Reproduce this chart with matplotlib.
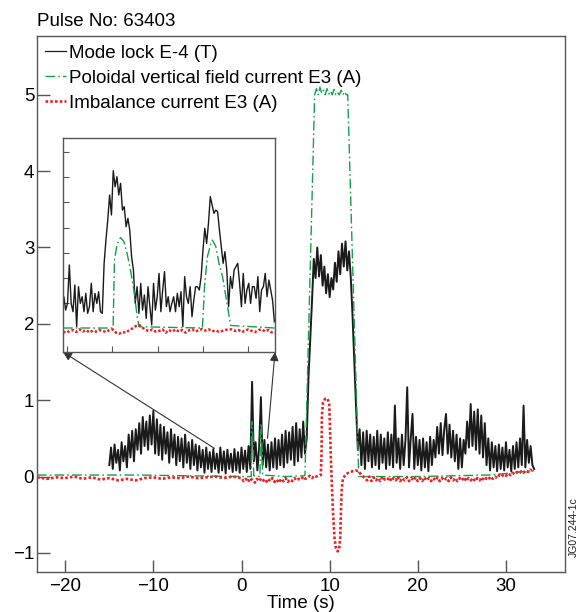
import numpy as np
import matplotlib
matplotlib.use("Agg")
import matplotlib.pyplot as plt

plt.rcParams['font.family'] = ['Liberation Sans', 'DejaVu Sans']

# ---------------- data ----------------
pulse_label = "Pulse No: 63403"
series_names = ["Mode lock E-4 (T)",
                "Poloidal vertical field current E3 (A)",
                "Imbalance current E3 (A)"]
x_ticks = [-20, -10, 0, 10, 20, 30]
y_ticks = [-1, 0, 1, 2, 3, 4, 5]

# Mode lock (T), sampled every 0.2 s from -15.0 s
mode_t0, mode_dt = -15.0, 0.2
mode_lock = [
    0.15, 0.38, 0.10, 0.42, 0.18, 0.35, 0.08, 0.45, 0.20, 0.40,
    0.12, 0.55, 0.25, 0.60, 0.20, 0.62, 0.35, 0.70, 0.30, 0.78,
    0.40, 0.72, 0.35, 0.80, 0.42, 0.86, 0.30, 0.75, 0.28, 0.68,
    0.22, 0.65, 0.30, 0.58, 0.18, 0.62, 0.25, 0.55, 0.15, 0.52,
    0.20, 0.50, 0.12, 0.55, 0.18, 0.45, 0.10, 0.48, 0.15, 0.42,
    0.08, 0.40, 0.12, 0.35, 0.05, 0.38, 0.10, 0.32, 0.06, 0.36,
    0.10, 0.30, 0.05, 0.38, 0.08, 0.33, 0.04, 0.35, 0.10, 0.30,
    0.06, 0.36, 0.08, 0.32, 0.05, 0.38, 0.10, 0.34, 0.06, 0.40,
    0.10, 1.24, 0.20, 0.45, 0.08, 0.38, 1.04, 0.15, 0.48, 0.12,
    0.42, 0.08, 0.45, 0.12, 0.50, 0.10, 0.48, 0.15, 0.55, 0.12,
    0.60, 0.18, 0.58, 0.22, 0.65, 0.15, 0.70, 0.20, 0.62, 0.25,
    0.72, 0.30, 0.50, 1.30, 1.80, 2.30, 2.85, 2.60, 3.00, 2.62,
    2.90, 2.50, 2.75, 2.40, 2.65, 2.35, 2.60, 2.45, 2.80, 2.55,
    2.95, 2.65, 3.05, 2.75, 3.08, 2.70, 2.95, 2.60, 2.10, 1.50,
    0.90, 0.35, 0.62, 0.15, 0.58, 0.10, 0.60, 0.20, 0.55, 0.12,
    0.52, 0.15, 0.60, 0.10, 0.55, 0.18, 0.50, 0.10, 0.58, 0.15,
    0.55, 0.12, 0.93, 0.18, 0.50, 0.10, 0.55, 0.15, 0.48, 1.17,
    0.12, 0.50, 0.82, 0.10, 0.52, 0.15, 0.48, 0.08, 0.50, 0.12,
    0.45, 0.07, 0.52, 0.15, 0.48, 0.25, 0.65, 0.30, 0.70, 0.28,
    0.62, 0.82, 0.30, 0.68, 0.25, 0.60, 0.20, 0.55, 0.10, 0.50,
    0.12, 0.48, 0.30, 0.72, 0.38, 0.95, 0.40, 0.85, 0.35, 0.88,
    0.30, 0.80, 0.25, 0.70, 0.15, 0.50, 0.08, 0.45, 0.12, 0.40,
    0.07, 0.42, 0.10, 0.38, 0.08, 0.45, 0.12, 0.35, 0.07, 0.40,
    0.10, 0.45, 0.12, 0.50, 0.15, 0.93, 0.12, 0.48, 0.18, 0.40,
    0.15, 0.10,
]

# Poloidal vertical field current (A)
pvf_t = [-23.2, -18, -12, -6, 0.0, 1.10, 1.12, 1.15, 1.19, 1.23, 1.26, 1.30,
         1.34, 1.37, 1.39, 2.10, 2.12, 2.15, 2.19, 2.21, 2.24, 2.28, 2.32,
         2.36, 2.39, 2.41, 5.0, 7.1, 7.2, 8.3, 8.5, 8.7, 8.9, 9.1, 9.3, 9.5,
         9.7, 9.9, 10.1, 10.3, 10.5, 10.7, 10.9, 11.1, 11.3, 11.5, 11.7, 11.9,
         12.05, 13.3, 16, 20, 24, 28, 30, 33.2]
pvf_v = [0.02, 0.02, 0.02, 0.01, 0.0, 0.0, 0.54, 0.67, 0.72, 0.69, 0.59, 0.46,
         0.30, 0.09, 0.01, 0.0, 0.36, 0.57, 0.67, 0.70, 0.65, 0.51, 0.41,
         0.25, 0.09, 0.02, 0.0, 0.01, 0.02, 5.0, 5.08, 5.0, 5.1, 5.02, 5.06,
         5.0, 5.08, 5.01, 5.05, 5.0, 5.07, 5.0, 5.03, 5.0, 5.06, 5.0, 5.04, 5.0,
         5.0, 0.0, 0.0, 0.0, 0.01, 0.02, 0.04, 0.08]

# Imbalance current (A)
imb_pre_t = [-23.2, -22, -21, -20, -19, -18, -17, -16, -15, -14, -13, -12,
             -11, -10, -9, -8, -7, -6, -5, -4, -3, -2, -1]
imb_pre_v = [-0.01, -0.03, -0.01, -0.02, 0.0, -0.03, -0.01, -0.04, -0.02,
             -0.05, -0.03, -0.05, -0.02, -0.01, -0.03, -0.01, -0.02, 0.0,
             -0.02, -0.01, 0.0, -0.02, 0.0]
imb_mid_t0, imb_dt = 0.0, 0.25      # 0.0 .. 8.75 s
imb_mid_v = [-0.02, -0.06, -0.03, -0.07, -0.02, -0.05, -0.08, -0.03, -0.06, -0.02,
             -0.05, -0.08, -0.03, -0.06, -0.02, -0.07, -0.04, -0.08, -0.03, -0.06,
             -0.02, -0.07, -0.04, -0.06, -0.02, -0.05, -0.03, -0.04, 0.0, -0.03,
             -0.01, 0.01, -0.02, 0.01, 0.0, 0.01]
imb_pulse_t = [9.0, 9.08, 9.12, 9.25, 9.5, 9.76, 9.95, 10.05, 10.15, 10.25,
               10.4, 10.55, 10.7, 10.9, 11.07, 11.2, 11.3, 11.38, 11.5, 11.83,
               12.3, 12.96, 13.3, 13.6]
imb_pulse_v = [0.02, 0.3, 0.8, 0.97, 1.02, 1.02, 0.95, 0.6, 0.2, -0.1,
               -0.5, -0.8, -0.93, -0.98, -0.96, -0.8, -0.4, -0.15, -0.03, 0.03,
               0.06, 0.08, 0.07, 0.02]
imb_post_t0 = 14.0                   # 14.0 .. 33.0 s every 0.25 s, then 33.2
imb_post_v = [-0.02, -0.05, 0.0, -0.06, -0.01, -0.05, -0.02, -0.06, 0.0, -0.04,
              -0.05, -0.01, -0.06, -0.02, -0.05, 0.0, -0.06, -0.02, -0.05, -0.01,
              -0.06, -0.02, -0.05, -0.01, -0.06, -0.02, -0.06, -0.01, -0.05, -0.02,
              -0.06, -0.02, -0.05, -0.01, -0.06, -0.02, -0.05, -0.02, -0.06, -0.01,
              -0.05, -0.02, -0.06, -0.02, -0.05, -0.01, -0.06, -0.02, -0.05, -0.02,
              -0.06, -0.02, -0.05, -0.01, -0.05, -0.02, -0.04, 0.0, -0.03, 0.0,
              -0.02, 0.02, 0.0, 0.03, 0.01, 0.04, 0.02, 0.05, 0.03, 0.06,
              0.04, 0.07, 0.05, 0.08, 0.06, 0.09, 0.08]
imb_end_t, imb_end_v = 33.2, 0.1

# Inset (zoom of the two small events near t = 1-2.5 s)
ins_xlim = (0.552, 2.90)
ins_ylim = (-0.191, 1.513)
ins_xticks = [0.6, 1.1, 1.6, 2.1, 2.6]
ins_yticks = [0.2, 0.4, 0.6, 0.8, 1.0, 1.2, 1.4]
ins_mode = [0.130, 0.249, 0.143, 0.196, 0.502, 0.196, 0.130, 0.342, 0.011, 0.329,
            0.196, 0.249, 0.130, 0.276, 0.117, 0.170, 0.356, 0.130, 0.276, 0.196,
            0.289, 0.130, 0.117, 0.515, 0.701, 0.860, 1.059, 0.900, 1.253, 1.125,
            1.205, 1.059, 1.152, 0.939, 0.966, 0.807, 0.873, 0.780, 0.568, 0.462,
            0.196, 0.329, 0.117, 0.356, 0.143, 0.263, 0.077, 0.329, 0.170, 0.024,
            0.356, 0.143, 0.249, 0.435, 0.130, 0.303, 0.449, 0.170, 0.249, 0.130,
            0.196, 0.249, 0.130, 0.276, 0.170, 0.289, 0.011, 0.409, 0.249, 0.196,
            0.329, 0.090, 0.223, 0.329, 0.329, 0.303, 0.409, 0.621, 0.794, 0.674,
            0.833, 1.046, 0.979, 0.913, 0.939, 0.926, 0.780, 0.648, 0.515, 0.608,
            0.462, 0.170, 0.409, 0.316, 0.462, 0.488, 0.515, 0.356, 0.170, 0.435,
            0.196, 0.303, 0.356, 0.196, 0.329, 0.329, 0.236, 0.409, 0.130, 0.303,
            0.329, 0.435, 0.249, 0.382, 0.303, 0.223, 0.050]
ins_mode_span = (0.541, 2.893)
ins_pvf_t = [0.552, 1.107, 1.122, 1.152, 1.189, 1.226, 1.263, 1.300, 1.337,
             1.374, 1.393, 2.096, 2.122, 2.152, 2.189, 2.207, 2.244, 2.281,
             2.319, 2.356, 2.393, 2.411, 2.90]
ins_pvf_v = [0.0, 0.0, 0.54, 0.67, 0.72, 0.69, 0.59, 0.46, 0.30, 0.09, 0.01,
             0.0, 0.36, 0.57, 0.67, 0.70, 0.65, 0.51, 0.41, 0.25, 0.09, 0.02, 0.0]
ins_imb = [-0.029, -0.037, -0.024, -0.016, -0.032, -0.011, -0.027, -0.016, -0.035,
           -0.021, -0.029, -0.016, -0.024, -0.032, -0.016, -0.011, -0.037, -0.045,
           -0.032, -0.037, -0.016, -0.003, 0.016, 0.024, 0.003, -0.016, -0.024,
           -0.011, -0.029, -0.024, -0.011, -0.037, -0.016, -0.029, -0.011, -0.029,
           -0.016, -0.037, -0.019, -0.011, -0.029, -0.016, -0.008, -0.021, -0.011,
           -0.027, -0.019, -0.029, -0.024, -0.016, -0.011, -0.011, -0.024, -0.016,
           -0.032, -0.021, -0.011, -0.024, -0.032, -0.016, -0.011, -0.027, -0.016,
           -0.035, -0.037]

# arrow tails (main-axes data coordinates)
arrow_tail_left = (-3.07, 0.37)
arrow_tail_right = (2.95, 0.50)

# ---------------- assemble ----------------
mode_t = mode_t0 + mode_dt * np.arange(len(mode_lock))
imb_t = np.concatenate([imb_pre_t,
                        imb_mid_t0 + imb_dt * np.arange(len(imb_mid_v)),
                        imb_pulse_t,
                        imb_post_t0 + imb_dt * np.arange(len(imb_post_v)),
                        [imb_end_t]])
imb_v = np.concatenate([imb_pre_v, imb_mid_v, imb_pulse_v, imb_post_v, [imb_end_v]])

BLACK = '#1a1a1a'
GREEN = '#12a04a'
RED = '#ee2024'
DASHDOT = (0, (7, 2.2, 1.2, 2.2))
FS = 13.5

fig = plt.figure(figsize=(5.78, 6.12), dpi=100)
ax = fig.add_axes([37/578, 1 - 572/612, (565-37)/578, (572-36)/612])

l1, = ax.plot(mode_t, mode_lock, color=BLACK, lw=1.4, zorder=2)
l2, = ax.plot(pvf_t, pvf_v, color=GREEN, lw=1.0, ls=DASHDOT, zorder=3)
l3, = ax.plot(imb_t, imb_v, color=RED, lw=1.9, ls=(0, (1, 0.8)), zorder=4)

ax.set_xlim(-23.2, 36.7)
ax.set_ylim(-1.25, 5.77)
ax.set_xticks(x_ticks)
ax.set_yticks(y_ticks)
ax.set_xticklabels([str(v).replace('-', '\u2212') for v in x_ticks])
ax.set_yticklabels([str(v).replace('-', '\u2212') for v in y_ticks])
ax.tick_params(direction='in', length=9, width=1.0, color='#555555',
               labelsize=FS, pad=4)
ax.tick_params(axis='y', pad=2)
for s in ax.spines.values():
    s.set_color('#555555')
    s.set_linewidth(1.0)
ax.set_xlabel("Time (s)", fontsize=FS, labelpad=0)
ax.text(0.0, 1.012, pulse_label, transform=ax.transAxes, fontsize=FS,
        ha='left', va='bottom')

leg = ax.legend([l1, l2, l3], series_names, loc='upper left', frameon=False,
                fontsize=FS, handlelength=1.1, handletextpad=0.15,
                labelspacing=0.42, borderaxespad=0.2, borderpad=0.25)
leg.legend_handles[0].set_linewidth(0.9)

# inset
axins = fig.add_axes([63/578, 1 - 352/612, (275-63)/578, (352-138)/612])
axins.plot(np.linspace(ins_mode_span[0], ins_mode_span[1], len(ins_mode)),
           ins_mode, color=BLACK, lw=1.0, zorder=2)
axins.plot(ins_pvf_t, ins_pvf_v, color=GREEN, lw=1.0, ls=DASHDOT, zorder=3)
axins.plot(np.linspace(ins_xlim[0], ins_xlim[1], len(ins_imb)), ins_imb,
           color=RED, lw=1.8, ls=(0, (1, 0.8)), zorder=4)
axins.set_xlim(*ins_xlim)
axins.set_ylim(*ins_ylim)
axins.set_xticks(ins_xticks)
axins.set_yticks(ins_yticks)
axins.set_xticklabels([])
axins.set_yticklabels([])
axins.tick_params(direction='in', length=4, width=0.8, color='#555555')
for s in axins.spines.values():
    s.set_color('#555555')
    s.set_linewidth(1.0)

# arrows from the main trace to the inset corners
for corner, tail in [((0, 0), arrow_tail_left), ((1, 0), arrow_tail_right)]:
    ax.annotate('', xy=corner, xycoords=axins.transAxes,
                xytext=tail, textcoords='data',
                arrowprops=dict(arrowstyle='-|>', color='#333333', lw=0.8,
                                mutation_scale=13, shrinkA=0, shrinkB=0),
                zorder=5)

fig.text(574/578, 1 - 527/612, "JG07.244-1c", rotation=90, fontsize=7.5,
         ha='center', va='center', color='#222222')

fig.savefig("out.png", dpi=100)
